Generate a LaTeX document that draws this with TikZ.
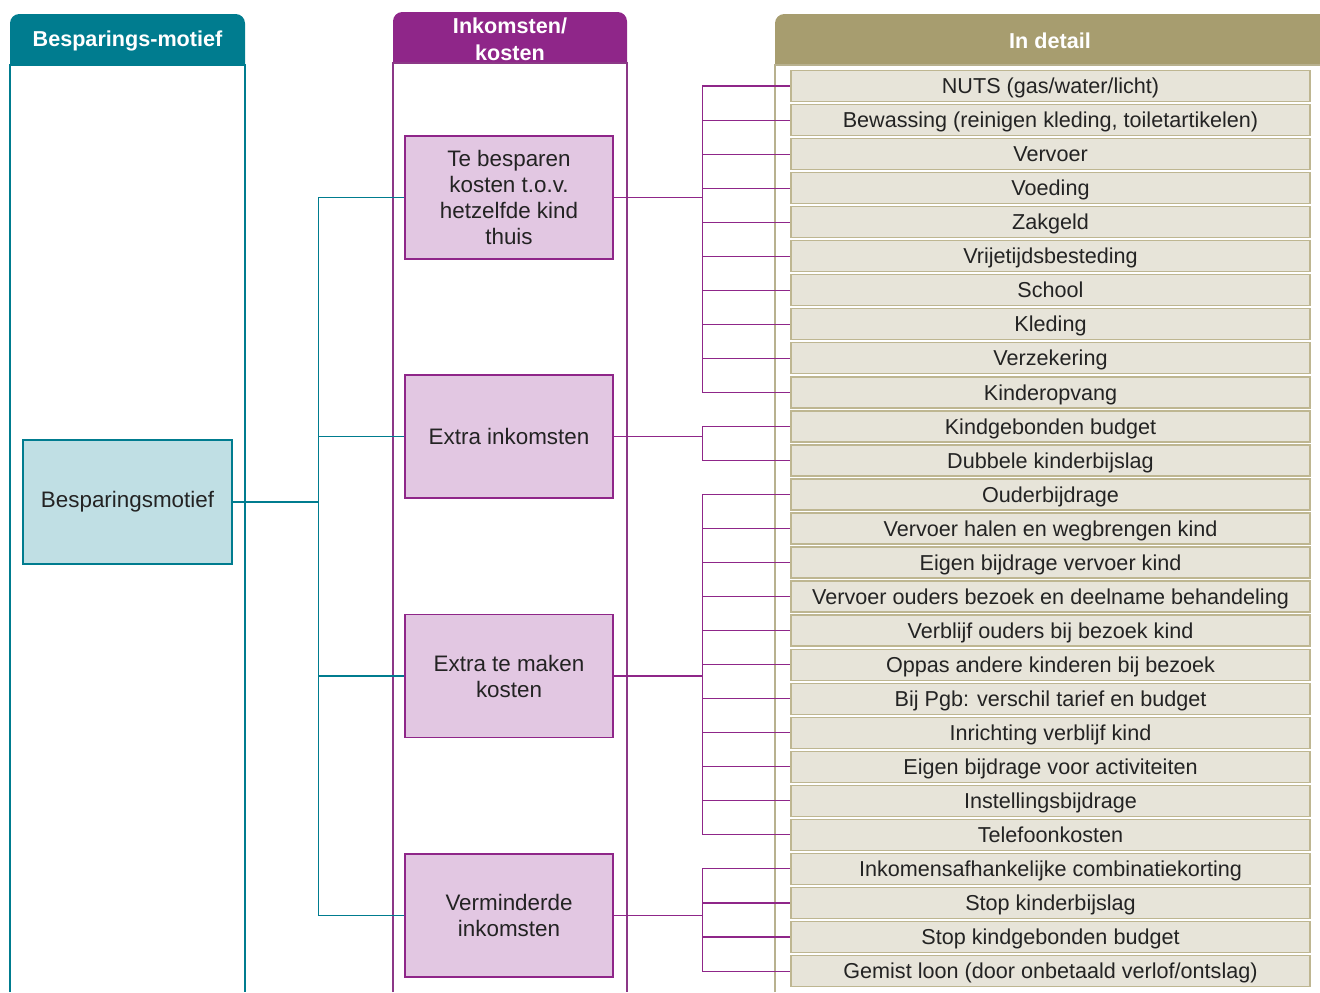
\documentclass[tikz,border=0pt]{standalone}
\usepackage{fontspec}
\setmainfont{Liberation Sans}
\definecolor{tealH}{RGB}{0,124,143}
\definecolor{tealL}{RGB}{192,223,228}
\definecolor{purpH}{RGB}{143,38,137}
\definecolor{purpL}{RGB}{226,199,226}
\definecolor{oliveH}{RGB}{167,157,111}
\definecolor{oliveL}{RGB}{231,228,217}
\definecolor{oliveB}{RGB}{190,182,145}
\definecolor{txt}{RGB}{35,35,35}
\begin{document}
\begin{tikzpicture}[x=0.75pt,y=-0.75pt,
  hdr/.style={text=white,font=\bfseries\fontsize{16.2}{19.5}\selectfont,align=center,inner sep=0pt},
  body/.style={font=\fontsize{16.2}{19.5}\selectfont,text=txt,align=center},
  bigbody/.style={font=\fontsize{16.8}{19.5}\selectfont,text=txt,align=center},
  leftbox/.style={bigbody,draw=tealH,fill=tealL,line width=0.9pt,minimum width=156.75pt,minimum height=93pt,inner sep=0pt},
  midbox/.style={bigbody,draw=purpH,fill=purpL,line width=0.9pt,minimum width=156pt,minimum height=92.25pt,inner sep=0pt},
  itembox/.style={body,draw=oliveB,fill=oliveL,line width=1pt,minimum width=389.25pt,minimum height=23.25pt,inner sep=0pt,text height=13.5pt,text depth=2pt},
  tealline/.style={draw=tealH,line width=0.8pt},
  purpline/.style={draw=purpH,line width=0.8pt},
  colline/.style={line width=0.9pt}
]
\useasboundingbox (0,0) rectangle (1320,992);
% column headers
\fill[tealH] (10,65) [rounded corners=7] -- (10,14) -- (245,14) [sharp corners] -- (245,65) -- cycle;
\fill[purpH] (393,63) [rounded corners=7] -- (393,12) -- (627,12) [sharp corners] -- (627,63) -- cycle;
\fill[oliveH] (775,65) [rounded corners=7] -- (775,14) -- (1335,14) [sharp corners] -- (1335,65) -- cycle;
\node[hdr] (h1) at (127.5,41) {Besparings-motief};
\node[hdr] (h2) at (510,39) {Inkomsten/\\[1pt]kosten};
\node[hdr] (h3) at (1050,41) {In detail};
% column bodies
\draw[colline,draw=tealH] (10,992) -- (10,65) -- (245,65) -- (245,992);
\draw[colline,draw=purpH!80!gray] (393,992) -- (393,63) -- (627,63) -- (627,992);
\draw[colline,draw=oliveB!90!gray] (775,992) -- (775,65) -- (1320,65);
% left box
\node[leftbox] (bm) at (127.5,502) {Besparingsmotief};
% middle boxes
\node[midbox] (m1) at (509,197.5) {Te besparen\\kosten t.o.v.\\hetzelfde kind\\thuis};
\node[midbox] (m2) at (509,436.5) {Extra inkomsten};
\node[midbox] (m3) at (509,676) {Extra te maken\\kosten};
\node[midbox] (m4) at (509,915.5) {Verminderde\\inkomsten};
% items
\foreach \t [count=\i from 0] in {NUTS (gas/water/licht),{Bewassing (reinigen kleding, toiletartikelen)},Vervoer,Voeding,Zakgeld,Vrijetijdsbesteding,School,Kleding,Verzekering,Kinderopvang,Kindgebonden budget,Dubbele kinderbijslag,Ouderbijdrage,Vervoer halen en wegbrengen kind,Eigen bijdrage vervoer kind,Vervoer ouders bezoek en deelname behandeling,Verblijf ouders bij bezoek kind,Oppas andere kinderen bij bezoek,Bij Pgb: verschil tarief en budget,Inrichting verblijf kind,Eigen bijdrage voor activiteiten,Instellingsbijdrage,Telefoonkosten,Inkomensafhankelijke combinatiekorting,Stop kinderbijslag,Stop kindgebonden budget,Gemist loon (door onbetaald verlof/ontslag)}
  \node[itembox] (i\i) at (1050.5,86+34.04*\i) {\t};
% teal connectors
\coordinate (tj) at (318.5,502);
\draw[tealline] (bm.east) -- (tj);
\foreach \k in {1,...,4} \draw[tealline] (tj) |- (m\k.west);
% purple connectors
\draw[purpline] (m1.east) -- ++(89,0) coordinate (j1);
\draw[purpline] (m2.east) -- ++(89,0) coordinate (j2);
\draw[purpline] (m3.east) -- ++(89,0) coordinate (j3);
\draw[purpline] (m4.east) -- ++(89,0) coordinate (j4);
\foreach \i in {0,...,9} \draw[purpline] (j1) |- (i\i.west);
\foreach \i in {10,11} \draw[purpline] (j2) |- (i\i.west);
\foreach \i in {12,...,22} \draw[purpline] (j3) |- (i\i.west);
\foreach \i in {23,...,26} \draw[purpline] (j4) |- (i\i.west);
\end{tikzpicture}
\end{document}
